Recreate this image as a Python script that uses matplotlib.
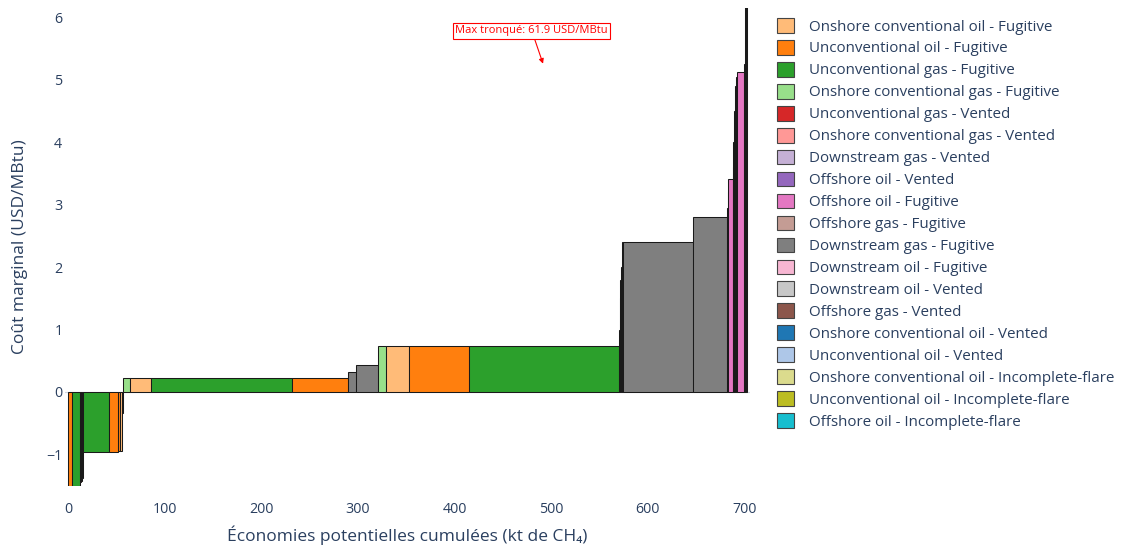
import matplotlib
matplotlib.use("Agg")
import matplotlib.pyplot as plt
from matplotlib.patches import Patch
import numpy as np

# ---------------- data ----------------
legend_categories = [
    "Onshore conventional oil - Fugitive",
    "Unconventional oil - Fugitive",
    "Unconventional gas - Fugitive",
    "Onshore conventional gas - Fugitive",
    "Unconventional gas - Vented",
    "Onshore conventional gas - Vented",
    "Downstream gas - Vented",
    "Offshore oil - Vented",
    "Offshore oil - Fugitive",
    "Offshore gas - Fugitive",
    "Downstream gas - Fugitive",
    "Downstream oil - Fugitive",
    "Downstream oil - Vented",
    "Offshore gas - Vented",
    "Onshore conventional oil - Vented",
    "Unconventional oil - Vented",
    "Onshore conventional oil - Incomplete-flare",
    "Unconventional oil - Incomplete-flare",
    "Offshore oil - Incomplete-flare",
]
legend_colors = [
    "#ffbb78", "#ff7f0e", "#2ca02c", "#98df8a", "#d62728", "#ff9896",
    "#c5b0d5", "#9467bd", "#e377c2", "#c49c94", "#7f7f7f", "#f7b6d2",
    "#c7c7c7", "#8c564b", "#1f77b4", "#aec7e8", "#dbdb8d", "#bcbd22",
    "#17becf",
]

bar_categories = [
    "Unconventional oil - Fugitive",
    "Unconventional gas - Fugitive",
    "Onshore conventional gas - Vented",
    "Unconventional gas - Vented",
    "Unconventional oil - Vented",
    "Unconventional gas - Fugitive",
    "Unconventional oil - Fugitive",
    "Unconventional oil - Fugitive",
    "Onshore conventional oil - Fugitive",
    "Onshore conventional oil - Vented",
    "Onshore conventional gas - Fugitive",
    "Onshore conventional oil - Fugitive",
    "Unconventional gas - Fugitive",
    "Unconventional oil - Fugitive",
    "Downstream gas - Fugitive",
    "Downstream gas - Fugitive",
    "Onshore conventional gas - Fugitive",
    "Onshore conventional oil - Fugitive",
    "Unconventional oil - Fugitive",
    "Unconventional gas - Fugitive",
    "Onshore conventional oil - Incomplete-flare",
    "Unconventional oil - Incomplete-flare",
    "Offshore gas - Fugitive",
    "Downstream oil - Fugitive",
    "Offshore oil - Vented",
    "Downstream gas - Fugitive",
    "Downstream gas - Fugitive",
    "Downstream gas - Vented",
    "Downstream oil - Vented",
    "Offshore oil - Fugitive",
    "Offshore gas - Vented",
    "Offshore oil - Incomplete-flare",
    "Offshore oil - Vented",
    "Offshore gas - Fugitive",
    "Downstream oil - Fugitive",
    "Offshore oil - Fugitive",
    "Offshore oil - Vented",
    "Downstream gas - Vented",
    "Offshore gas - Vented",
]
bar_widths = [
    4.0, 8.5, 1.0, 1.0, 1.0, 26.9, 9.4, 2.2, 2.0, 0.8,
    7.3, 21.8, 146.0, 58.0, 8.2, 22.8, 8.3, 23.8, 62.1, 155.3,
    0.7, 0.7, 0.7, 0.9, 1.1, 72.5, 35.2, 0.6, 0.6, 4.5,
    0.9, 0.9, 0.9, 0.9, 0.9, 7.0, 1.0, 1.0, 1.0,
]
bar_costs = [
    -1.5, -1.5, -1.45, -1.42, -1.38, -0.96, -0.96, -0.95, -0.94, -0.34,
    0.22, 0.22, 0.22, 0.22, 0.32, 0.44, 0.73, 0.73, 0.73, 0.73,
    1.0, 1.5, 1.8, 2.0, 2.4, 2.41, 2.81, 2.95, 3.2, 3.42,
    3.6, 4.0, 4.5, 4.9, 5.05, 5.12, 5.25, 8.0, 61.9,
]

x_ticks = [0, 100, 200, 300, 400, 500, 600, 700]
y_ticks = [-1, 0, 1, 2, 3, 4, 5, 6]
annot_text = "Max tronqué: 61.9 USD/MBtu"

# ---------------- figure ----------------
FONT = ["Open Sans", "DejaVu Sans"]
plt.rcParams["font.family"] = FONT
TXT = "#2a3f5f"

fig = plt.figure(figsize=(11.21, 5.52), dpi=100)
ax = fig.add_axes([0.0581, 0.1203, 0.611, 0.8649])

color_map = dict(zip(legend_categories, legend_colors))
lefts = np.concatenate([[0.0], np.cumsum(bar_widths)[:-1]])
ax.axhline(0, color="#d0d6e0", lw=0.8, zorder=0)
ax.bar(lefts, bar_costs, width=bar_widths, align="edge",
       color=[color_map[c] for c in bar_categories],
       edgecolor="#1a1a1a", linewidth=0.75, zorder=2)

ax.set_xlim(-3, 706)
ax.set_ylim(-1.5, 6.15)
ax.set_xticks(x_ticks)
ax.set_yticks(y_ticks)
ax.set_yticklabels([str(v).replace("-", "\u2212") for v in y_ticks])
ax.tick_params(axis="both", length=0, colors=TXT, labelsize=10.3)
ax.tick_params(axis="x", pad=12)
ax.tick_params(axis="y", pad=2)
for s in ax.spines.values():
    s.set_visible(False)

ax.set_xlabel("Économies potentielles cumulées (kt de CH\u2084)", color=TXT,
              fontsize=12.5, labelpad=6)
ax.set_ylabel("Coût marginal (USD/MBtu)", color=TXT, fontsize=12.5, labelpad=13)

ax.annotate(annot_text, xy=(491.7, 5.26), xytext=(480, 5.79),
            color="red", fontsize=8.0, ha="center", va="center",
            bbox=dict(boxstyle="square,pad=0.22", fc="white", ec="red", lw=0.8),
            arrowprops=dict(arrowstyle="-|>", color="red", lw=0.8,
                            mutation_scale=7, shrinkA=0, shrinkB=0),
            zorder=5)

handles = [Patch(facecolor=c, edgecolor="#444444", linewidth=0.8)
           for c in legend_colors]
fig.legend(handles, legend_categories, loc="upper left",
           bbox_to_anchor=(777 / 1121, 1 - 18 / 552), frameon=False,
           fontsize=10.9, handlelength=1.12, handleheight=1.12,
           labelspacing=0.36, handletextpad=1.0, borderpad=0,
           borderaxespad=0, labelcolor=TXT)

fig.savefig("out.png", dpi=100)
